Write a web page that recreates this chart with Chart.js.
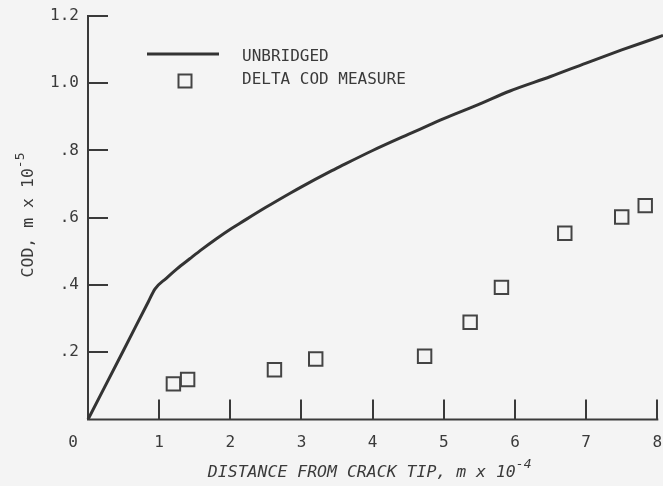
<!DOCTYPE html>
<html>
<head>
<meta charset="utf-8">
<script src="https://cdn.jsdelivr.net/npm/chart.js@4/dist/chart.umd.min.js"></script>
<style>
  html, body { margin: 0; padding: 0; background: #f4f4f4; }
  #wrap { width: 663px; height: 486px; position: relative; }
</style>
</head>
<body>
<div id="wrap"><canvas id="c" width="663" height="486"></canvas></div>
<script>
// Unbridged crack opening profile (distance in m x 10^-4, COD in m x 10^-5)
const unbridgedX = [0, 0.5, 0.85, 0.94, 1.1, 1.25, 1.43, 1.6, 1.8, 2.0, 2.13, 2.5, 2.84, 3.0, 3.4, 3.54, 4.0, 4.5, 4.8, 5.0, 5.5, 5.93, 6.5, 7.0, 7.5, 8.0, 8.08];
const unbridgedY = [0, 0.206, 0.351, 0.388, 0.42, 0.448, 0.478, 0.506, 0.537, 0.566, 0.583, 0.631, 0.673, 0.692, 0.737, 0.752, 0.80, 0.848, 0.876, 0.895, 0.938, 0.977, 1.02, 1.060, 1.099, 1.136, 1.142];

// Measured delta COD
const measuredX = [1.20, 1.40, 2.62, 3.20, 4.73, 5.37, 5.81, 6.70, 7.50, 7.83];
const measuredY = [0.106, 0.119, 0.148, 0.180, 0.188, 0.289, 0.393, 0.554, 0.602, 0.636];

const xTicks = [0, 1, 2, 3, 4, 5, 6, 7, 8];
const yTicks = [0, 0.2, 0.4, 0.6, 0.8, 1.0, 1.2];
const yTickLabels = ['', '.2', '.4', '.6', '.8', '1.0', '1.2'];

const legendLabels = ['UNBRIDGED', 'DELTA COD MEASURE'];
const xTitle = 'DISTANCE FROM CRACK TIP, m x 10';
const xTitleExp = '-4';
const yTitle = 'COD, m x 10';
const yTitleExp = '-5';

const INK = '#3a3a3a';
const MONO = '"DejaVu Sans Mono", "Liberation Mono", monospace';

const unbridged = unbridgedX.map((x, i) => ({ x, y: unbridgedY[i] }));
const measured = measuredX.map((x, i) => ({ x, y: measuredY[i] }));

// x axis line (ends at the last tick), inward tick marks, the corner "0",
// axis titles with exponents, and the key
const decor = {
  id: 'decor',
  beforeDraw(chart) {
    const ctx = chart.ctx;
    ctx.save();
    ctx.fillStyle = '#f4f4f4';
    ctx.fillRect(0, 0, chart.width, chart.height);
    ctx.restore();
  },
  afterDraw(chart) {
    const { ctx, chartArea: a, scales: { x, y } } = chart;
    const xEnd = x.getPixelForValue(xTicks[xTicks.length - 1]);
    ctx.save();
    ctx.strokeStyle = INK;
    ctx.lineWidth = 2;
    ctx.beginPath();
    ctx.moveTo(a.left - 1, a.bottom);
    ctx.lineTo(xEnd + 1, a.bottom);
    xTicks.forEach(v => {
      if (v === 0) return;
      const px = Math.round(x.getPixelForValue(v));
      ctx.moveTo(px, a.bottom);
      ctx.lineTo(px, a.bottom - 20);
    });
    yTicks.forEach(v => {
      if (v === 0) return;
      const py = Math.round(y.getPixelForValue(v));
      ctx.moveTo(a.left, py);
      ctx.lineTo(a.left + 20, py);
    });
    ctx.stroke();

    ctx.fillStyle = INK;
    // origin label
    ctx.font = '16px ' + MONO;
    ctx.textAlign = 'center';
    ctx.textBaseline = 'middle';
    ctx.fillText('0', x.getPixelForValue(0) - 15, a.bottom + 23);

    // x title
    ctx.textAlign = 'left';
    ctx.textBaseline = 'alphabetic';
    ctx.font = 'italic 16.5px ' + MONO;
    const wMain = ctx.measureText(xTitle).width;
    ctx.font = 'italic 13px ' + MONO;
    const wExp = ctx.measureText(xTitleExp).width;
    const cx = (a.left + xEnd) / 2 - 3;
    const x0 = cx - (wMain + wExp) / 2;
    ctx.font = 'italic 16.5px ' + MONO;
    ctx.fillText(xTitle, x0, a.bottom + 57.5);
    ctx.font = 'italic 13px ' + MONO;
    ctx.fillText(xTitleExp, x0 + wMain, a.bottom + 48.5);

    // y title (rotated)
    ctx.save();
    ctx.translate(33, 215);
    ctx.rotate(-Math.PI / 2);
    ctx.font = '16.5px ' + MONO;
    const yMain = ctx.measureText(yTitle).width;
    ctx.font = '13px ' + MONO;
    const yExp = ctx.measureText(yTitleExp).width;
    const s0 = -(yMain + yExp) / 2;
    ctx.font = '16.5px ' + MONO;
    ctx.fillText(yTitle, s0, 0);
    ctx.font = '13px ' + MONO;
    ctx.fillText(yTitleExp, s0 + yMain, -9);
    ctx.restore();

    // key
    ctx.strokeStyle = '#333';
    ctx.lineWidth = 3;
    ctx.beginPath();
    ctx.moveTo(147, 54);
    ctx.lineTo(219, 54);
    ctx.stroke();
    ctx.lineWidth = 2;
    ctx.strokeStyle = '#444';
    ctx.strokeRect(178.5, 74.5, 13, 13);
    ctx.font = '16px ' + MONO;
    ctx.textBaseline = 'middle';
    ctx.fillText(legendLabels[0], 242, 57);
    ctx.fillText(legendLabels[1], 242, 80);
    ctx.restore();
  }
};

new Chart(document.getElementById('c'), {
  type: 'scatter',
  data: {
    datasets: [
      {
        type: 'line',
        label: legendLabels[0],
        data: unbridged,
        borderColor: '#333',
        borderWidth: 3,
        pointRadius: 0,
        cubicInterpolationMode: 'monotone',
        fill: false,
        clip: false
      },
      {
        label: legendLabels[1],
        data: measured,
        pointStyle: 'rect',
        pointRadius: 9.5,
        pointHoverRadius: 9.5,
        pointBorderWidth: 2,
        pointBackgroundColor: 'rgba(0,0,0,0)',
        pointBorderColor: '#444'
      }
    ]
  },
  plugins: [decor],
  options: {
    responsive: false,
    animation: false,
    events: [],
    layout: { autoPadding: false, padding: { top: 16, right: 0, left: 0, bottom: 0 } },
    plugins: { legend: { display: false }, tooltip: { enabled: false } },
    scales: {
      x: {
        type: 'linear',
        min: 0,
        max: 8.08,
        afterFit(s) { s.height = 66.5; s.paddingLeft = 0; s.paddingRight = 0; },
        afterBuildTicks(s) { s.ticks = xTicks.map(v => ({ value: v })); },
        grid: { display: false, drawTicks: false },
        border: { display: false },
        ticks: {
          padding: 14,
          color: INK,
          font: { family: MONO, size: 16 },
          maxRotation: 0,
          callback: v => (v === 0 ? '' : String(v))
        }
      },
      y: {
        type: 'linear',
        min: 0,
        max: 1.2,
        afterFit(s) { s.width = 88; s.paddingTop = 0; s.paddingBottom = 0; },
        afterBuildTicks(s) { s.ticks = yTicks.map(v => ({ value: v })); },
        grid: { display: false, drawTicks: false },
        border: { display: true, color: INK, width: 2 },
        ticks: {
          padding: 9,
          color: INK,
          font: { family: MONO, size: 16 },
          callback: (v) => yTickLabels[yTicks.findIndex(t => Math.abs(t - v) < 1e-9)]
        }
      }
    }
  }
});
</script>
</body>
</html>
